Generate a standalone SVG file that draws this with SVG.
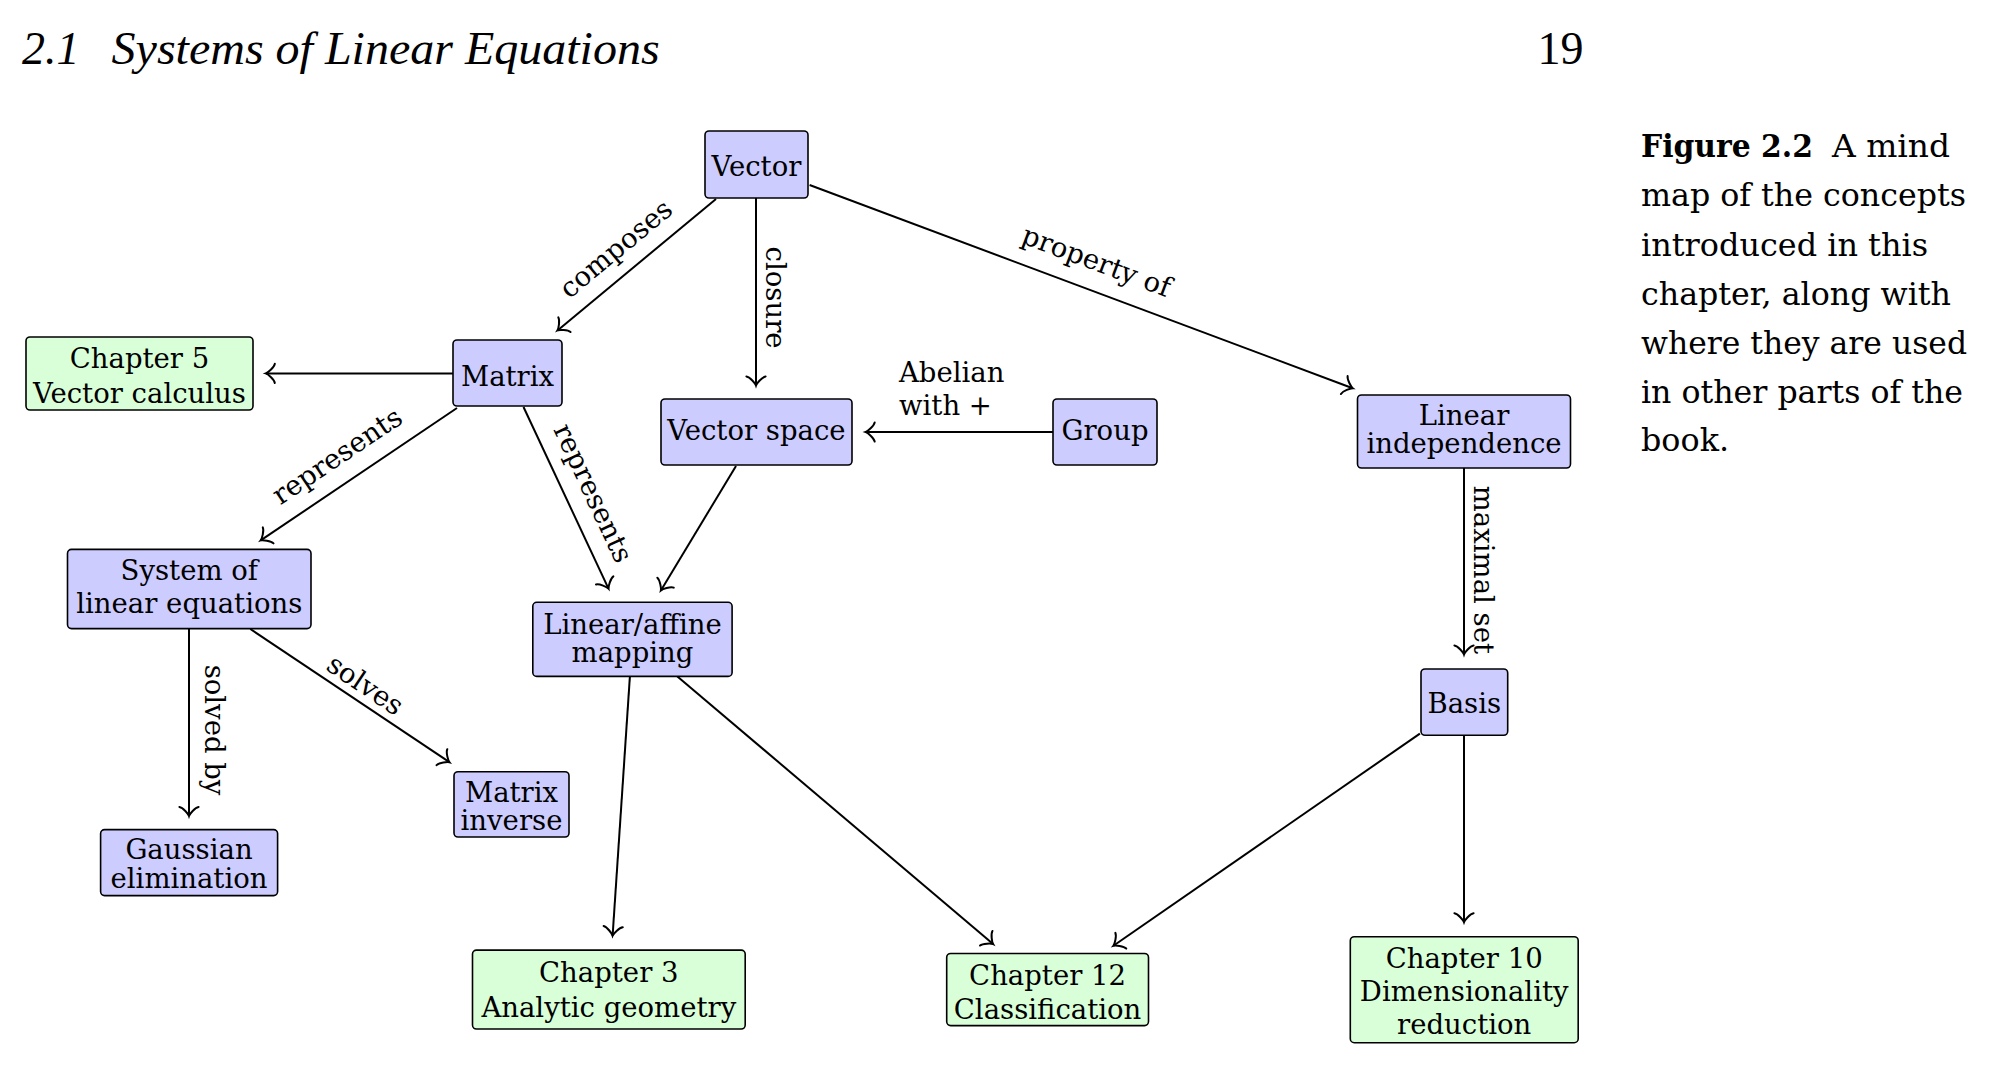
<svg xmlns="http://www.w3.org/2000/svg" width="2000" height="1068" viewBox="0 0 2000 1068">
<style>
.nb{fill:#CCCCFF;stroke:#000;stroke-width:1.6}
.ng{fill:#D9FFD9;stroke:#000;stroke-width:1.6}
.t{font-family:"DejaVu Serif",serif;font-size:27.5px;fill:#000;text-anchor:middle}
.lbl{font-family:"DejaVu Serif",serif;font-size:27.5px;fill:#000;text-anchor:middle}
.e{fill:none;stroke:#000;stroke-width:2;marker-end:url(#arr)}
.cap{font-family:"DejaVu Serif",serif;font-size:32px;fill:#000}
</style>
<defs>
<marker id="arr" viewBox="-12 -12 14 24" refX="0" refY="0" markerWidth="14" markerHeight="24" markerUnits="userSpaceOnUse" orient="auto" overflow="visible">
<path d="M -9,9.6 C -8.4,6 -1.8,0.6 0,0 C -1.8,-0.6 -8.4,-6 -9,-9.6" fill="none" stroke="#000" stroke-width="2" stroke-linecap="round"/>
</marker>
</defs>
<rect width="2000" height="1068" fill="#fff"/>

<g id="header">
<text x="22" y="64" font-family="'Liberation Serif',serif" font-style="italic" font-size="46">2.1</text>
<text x="111.6" y="64" font-family="'Liberation Serif',serif" font-style="italic" font-size="46" textLength="548" lengthAdjust="spacingAndGlyphs">Systems of Linear Equations</text>
<text x="1537.6" y="64" font-family="'Liberation Serif',serif" font-size="46">19</text>
</g>

<g id="caption">
<text class="cap" x="1641" y="156.7" font-weight="bold" textLength="172" lengthAdjust="spacingAndGlyphs">Figure 2.2</text>
<text class="cap" x="1832" y="156.7" textLength="118" lengthAdjust="spacingAndGlyphs">A mind</text>
<text class="cap" x="1641" y="206" textLength="325" lengthAdjust="spacingAndGlyphs">map of the concepts</text>
<text class="cap" x="1641" y="255.5" textLength="287" lengthAdjust="spacingAndGlyphs">introduced in this</text>
<text class="cap" x="1641" y="305" textLength="310" lengthAdjust="spacingAndGlyphs">chapter, along with</text>
<text class="cap" x="1641" y="354" textLength="326" lengthAdjust="spacingAndGlyphs">where they are used</text>
<text class="cap" x="1641" y="402.5" textLength="322" lengthAdjust="spacingAndGlyphs">in other parts of the</text>
<text class="cap" x="1641" y="451" textLength="88" lengthAdjust="spacingAndGlyphs">book.</text>
</g>

<g id="connectors">
<path class="e" d="M716,199 L557.5,330.4"/>
<path class="e" d="M756,198 L756,385.5"/>
<path class="e" d="M809.6,185 L1352.7,388.2"/>
<path class="e" d="M453,373.4 L265.8,373.4"/>
<path class="e" d="M457,408 L260.7,540.4"/>
<path class="e" d="M523.5,407 L608.5,588.6"/>
<path class="e" d="M736,466 L660.9,590.4"/>
<path class="e" d="M1053,432 L865.7,432"/>
<path class="e" d="M1464,468 L1464,654.5"/>
<path class="e" d="M189,629 L189,816"/>
<path class="e" d="M250.3,629 L449.4,762.2"/>
<path class="e" d="M629.9,676.4 L612.6,935.7"/>
<path class="e" d="M677.4,676.4 L993.1,944.1"/>
<path class="e" d="M1419.9,733.6 L1113.4,945.8"/>
<path class="e" d="M1464,735.3 L1464,922.2"/>
<text class="lbl" transform="translate(621.8,255.8) rotate(-39.7)">composes</text>
<text class="lbl" transform="translate(766,297.6) rotate(90)">closure</text>
<text class="lbl" transform="translate(1093.3,270) rotate(20.5)">property of</text>
<text class="lbl" transform="translate(342.3,463.6) rotate(-34)">represents</text>
<text class="lbl" transform="translate(584.7,497) rotate(64.9)">represents</text>
<text class="lbl" x="899" y="382" style="text-anchor:start">Abelian</text>
<text class="lbl" x="899" y="415" style="text-anchor:start">with +</text>
<text class="lbl" transform="translate(1474,569.9) rotate(90)">maximal set</text>
<text class="lbl" transform="translate(205.4,730) rotate(90)">solved by</text>
<text class="lbl" transform="translate(360.1,692.6) rotate(33.8)">solves</text>
</g>

<g id="node-vector">
<rect class="nb" x="705" y="131" width="103" height="67" rx="4"/>
<text class="t" x="756.5" y="176">Vector</text>
</g>
<g id="node-matrix">
<rect class="nb" x="453" y="340" width="109" height="66" rx="4"/>
<text class="t" x="507.5" y="385.5">Matrix</text>
</g>
<g id="node-chapter5">
<rect class="ng" x="26" y="337" width="227" height="73" rx="4"/>
<text class="t" x="139.5" y="368">Chapter 5</text>
<text class="t" x="139.5" y="402.7">Vector calculus</text>
</g>
<g id="node-vectorspace">
<rect class="nb" x="661" y="399" width="191" height="66" rx="4"/>
<text class="t" x="756.5" y="439.5">Vector space</text>
</g>
<g id="node-group">
<rect class="nb" x="1053" y="399" width="104" height="66" rx="4"/>
<text class="t" x="1105" y="440">Group</text>
</g>
<g id="node-linind">
<rect class="nb" x="1357.5" y="395" width="213" height="73" rx="4"/>
<text class="t" x="1464" y="424.5">Linear</text>
<text class="t" x="1464" y="453">independence</text>
</g>
<g id="node-system">
<rect class="nb" x="67.5" y="549.4" width="243.5" height="79.2" rx="4"/>
<text class="t" x="189.3" y="580.4">System of</text>
<text class="t" x="189.3" y="613.4">linear equations</text>
</g>
<g id="node-linaff">
<rect class="nb" x="532.8" y="602.3" width="199.3" height="74.1" rx="4"/>
<text class="t" x="632.5" y="634">Linear/affine</text>
<text class="t" x="632.5" y="662.2">mapping</text>
</g>
<g id="node-basis">
<rect class="nb" x="1421" y="669" width="86.7" height="66.3" rx="4"/>
<text class="t" x="1464.3" y="713.4">Basis</text>
</g>
<g id="node-gaussian">
<rect class="nb" x="100.6" y="829.6" width="177" height="66" rx="4"/>
<text class="t" x="189" y="859.2">Gaussian</text>
<text class="t" x="189" y="887.5">elimination</text>
</g>
<g id="node-matinv">
<rect class="nb" x="454" y="771.7" width="115" height="65.3" rx="4"/>
<text class="t" x="511.5" y="801.7">Matrix</text>
<text class="t" x="511.5" y="829.9">inverse</text>
</g>
<g id="node-chapter3">
<rect class="ng" x="472.5" y="950.1" width="272.7" height="78.9" rx="4"/>
<text class="t" x="608.8" y="981.5">Chapter 3</text>
<text class="t" x="608.8" y="1017">Analytic geometry</text>
</g>
<g id="node-chapter12">
<rect class="ng" x="946.7" y="953.5" width="201.8" height="72.1" rx="4"/>
<text class="t" x="1047.6" y="984.5">Chapter 12</text>
<text class="t" x="1047.6" y="1019">Classification</text>
</g>
<g id="node-chapter10">
<rect class="ng" x="1350.3" y="936.7" width="227.9" height="106" rx="4"/>
<text class="t" x="1464.2" y="968.3">Chapter 10</text>
<text class="t" x="1464.2" y="1001.3">Dimensionality</text>
<text class="t" x="1464.2" y="1034">reduction</text>
</g>
</svg>
